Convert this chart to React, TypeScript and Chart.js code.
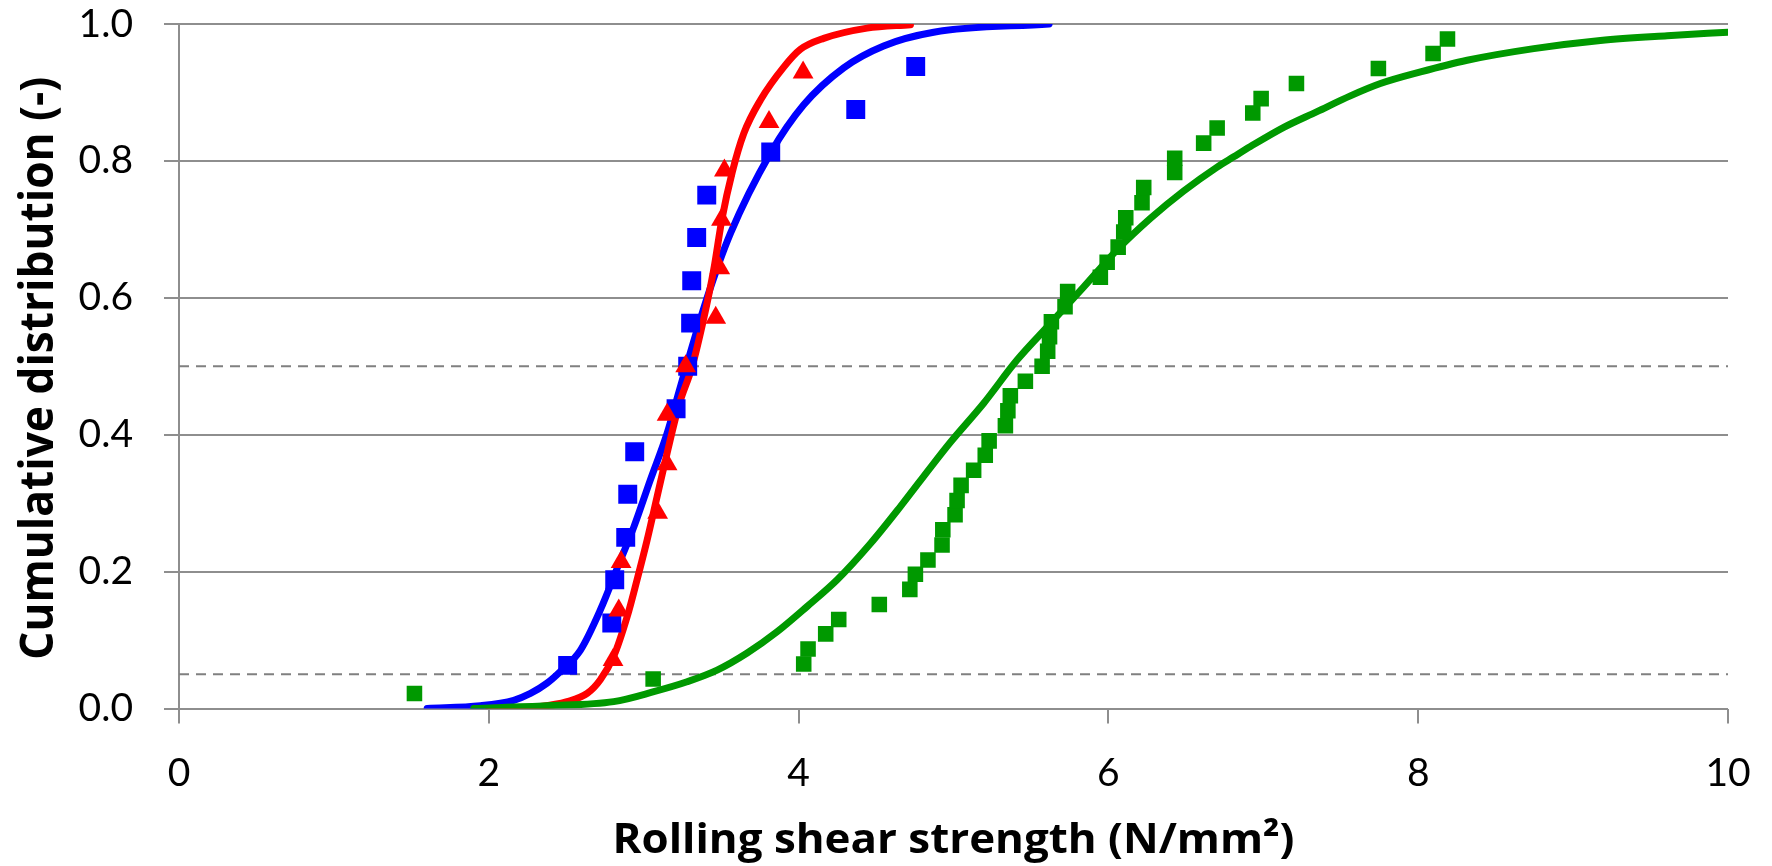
import React, { useEffect, useRef } from "react";
import { Chart, registerables } from "chart.js";

Chart.register(...registerables);

// Test data (markers)
const blueX = [2.509, 2.794, 2.813, 2.884, 2.897, 2.942, 3.209, 3.284, 3.303, 3.31, 3.342, 3.407, 3.82, 4.369, 4.756];
const blueY = [0.063, 0.125, 0.188, 0.25, 0.313, 0.375, 0.438, 0.5, 0.563, 0.625, 0.688, 0.75, 0.813, 0.875, 0.938];

const redX = [2.802, 2.839, 2.854, 3.09, 3.151, 3.151, 3.271, 3.465, 3.491, 3.502, 3.521, 3.809, 4.029];
const redY = [0.071, 0.143, 0.214, 0.286, 0.357, 0.429, 0.5, 0.571, 0.643, 0.714, 0.786, 0.857, 0.929];

const greenX = [
  1.52, 3.061, 4.033, 4.061, 4.175, 4.259, 4.521, 4.718, 4.754, 4.835,
  4.926, 4.931, 5.01, 5.023, 5.049, 5.13, 5.205, 5.23, 5.335, 5.351,
  5.367, 5.464, 5.572, 5.608, 5.62, 5.632, 5.72, 5.737, 5.948, 5.992,
  6.063, 6.099, 6.112, 6.217, 6.228, 6.428, 6.428, 6.615, 6.702, 6.932,
  6.986, 7.214, 7.743, 8.096, 8.189,
];
const greenY = [
  0.022, 0.043, 0.065, 0.087, 0.109, 0.13, 0.152, 0.174, 0.196, 0.217,
  0.239, 0.261, 0.283, 0.304, 0.326, 0.348, 0.37, 0.391, 0.413, 0.435,
  0.457, 0.478, 0.5, 0.522, 0.543, 0.565, 0.587, 0.609, 0.63, 0.652,
  0.674, 0.696, 0.717, 0.739, 0.761, 0.783, 0.804, 0.826, 0.848, 0.87,
  0.891, 0.913, 0.935, 0.957, 0.978,
];

// Fitted curves
const blueFitX = [1.602, 1.946, 2.161, 2.269, 2.376, 2.462, 2.591, 2.72, 2.85, 2.936, 3.043, 3.151, 3.237, 3.405, 3.56, 3.82, 4.033, 4.291, 4.549, 4.872, 5.617];
const blueFitY = [0.0, 0.004, 0.012, 0.022, 0.037, 0.054, 0.085, 0.144, 0.217, 0.265, 0.334, 0.402, 0.47, 0.597, 0.694, 0.812, 0.882, 0.936, 0.968, 0.988, 1.0];

const redFitX = [2.0, 2.333, 2.505, 2.635, 2.72, 2.806, 2.893, 2.957, 3.022, 3.086, 3.151, 3.23, 3.312, 3.388, 3.452, 3.506, 3.571, 3.646, 3.754, 3.904, 4.012, 4.162, 4.442, 4.722];
const redFitY = [0.0, 0.003, 0.01, 0.022, 0.042, 0.076, 0.134, 0.188, 0.246, 0.309, 0.373, 0.445, 0.499, 0.57, 0.641, 0.716, 0.783, 0.84, 0.889, 0.937, 0.963, 0.979, 0.994, 0.999];

const greenFitX = [1.903, 2.376, 2.806, 3.065, 3.28, 3.474, 3.668, 3.861, 4.055, 4.249, 4.464, 4.657, 4.851, 4.98, 5.195, 5.41, 5.626, 5.841, 6.056, 6.271, 6.486, 6.702, 6.809, 6.917, 7.132, 7.347, 7.562, 7.756, 8.015, 8.316, 8.746, 9.176, 9.607, 10.0];
const greenFitY = [0.0, 0.004, 0.01, 0.0245, 0.039, 0.056, 0.081, 0.112, 0.149, 0.188, 0.241, 0.295, 0.352, 0.389, 0.446, 0.509, 0.5625, 0.616, 0.67, 0.716, 0.756, 0.791, 0.806, 0.821, 0.849, 0.872, 0.895, 0.913, 0.93, 0.947, 0.964, 0.976, 0.983, 0.988];

// Reference levels (dashed)
const refLevels = [0.05, 0.5];
const xRange = [0, 10];

const yTicks = [0, 0.2, 0.4, 0.6, 0.8, 1.0];

const X_TITLE = "Rolling shear strength (N/mm²)";
const Y_TITLE = "Cumulative distribution (-)";

const BLUE = "#0000ff";
const RED = "#ff0000";
const GREEN = "#009900";
const GRID = "#8e8e8e";

const pts = (xs: number[], ys: number[]) => xs.map((x, i) => ({ x, y: ys[i] }));

// Axis titles drawn as (horizontally fitted) canvas text
const axisTitles = {
  id: "axisTitles",
  afterDraw(chart: any) {
    const { ctx, chartArea } = chart;
    ctx.save();
    ctx.fillStyle = "#000";
    ctx.textAlign = "center";
    ctx.textBaseline = "alphabetic";

    // x title
    ctx.font = 'bold 42px "Open Sans"';
    const wx = ctx.measureText(X_TITLE).width;
    ctx.save();
    ctx.translate((chartArea.left + chartArea.right) / 2, 853);
    ctx.scale(682 / wx, 1);
    ctx.fillText(X_TITLE, 0, 0);
    ctx.restore();

    // y title
    ctx.font = 'bold 46px "Open Sans"';
    const wy = ctx.measureText(Y_TITLE).width;
    ctx.save();
    ctx.translate(52.5, (chartArea.top + chartArea.bottom) / 2 + 2);
    ctx.rotate(-Math.PI / 2);
    ctx.scale(583 / wy, 1);
    ctx.fillText(Y_TITLE, 0, 0);
    ctx.restore();

    ctx.restore();
  },
};

export default function App() {
  const ref = useRef<HTMLCanvasElement>(null);

  useEffect(() => {
    const canvas = ref.current;
    if (!canvas) return;

    const tickFont = { family: "Lato", size: 39, lineHeight: 1 };

    const fitLine = (label: string, xs: number[], ys: number[], color: string, order: number) => ({
      label,
      data: pts(xs, ys),
      showLine: true,
      borderColor: color,
      borderWidth: 7,
      pointRadius: 0,
      cubicInterpolationMode: "monotone",
      borderCapStyle: "round",
      borderJoinStyle: "round",
      order,
    });

    const chart = new Chart(canvas, {
      type: "scatter",
      plugins: [axisTitles],
      data: {
        datasets: [
          {
            label: "red data",
            data: pts(redX, redY),
            pointStyle: "triangle",
            pointRadius: 12,
            backgroundColor: RED,
            borderColor: RED,
            borderWidth: 0,
            showLine: false,
            order: 1,
          },
          {
            label: "blue data",
            data: pts(blueX, blueY),
            pointStyle: "rect",
            pointRadius: 13.4,
            backgroundColor: BLUE,
            borderColor: BLUE,
            borderWidth: 0,
            showLine: false,
            order: 2,
          },
          {
            label: "green data",
            data: pts(greenX, greenY),
            pointStyle: "rect",
            pointRadius: 11,
            backgroundColor: GREEN,
            borderColor: GREEN,
            borderWidth: 0,
            showLine: false,
            order: 3,
          },
          fitLine("green fit", greenFitX, greenFitY, GREEN, 4),
          fitLine("red fit", redFitX, redFitY, RED, 5),
          fitLine("blue fit", blueFitX, blueFitY, BLUE, 6),
          ...refLevels.map((lv, i) => ({
            label: "ref " + lv,
            data: pts(xRange, [lv, lv]),
            showLine: true,
            borderColor: "#808080",
            borderWidth: 2,
            borderDash: [10, 7],
            pointRadius: 0,
            order: 7 + i,
          })),
        ],
      },
      options: {
        responsive: false,
        devicePixelRatio: 1,
        animation: false,
        layout: { padding: { top: 24, right: 44, left: 0, bottom: 0 } },
        plugins: {
          legend: { display: false },
          tooltip: { enabled: false },
        },
        scales: {
          x: {
            type: "linear",
            min: 0,
            max: 10,
            ticks: { stepSize: 2, font: tickFont, color: "#000", padding: 30 },
            grid: { drawOnChartArea: false, drawTicks: true, tickLength: 15, color: GRID, lineWidth: 2 },
            border: { display: false },
            title: { display: false },
            afterFit: (s: any) => {
              s.height = 157.5;
              s.paddingLeft = 0;
              s.paddingRight = 0;
            },
          },
          y: {
            type: "linear",
            min: 0,
            max: 1,
            afterBuildTicks: (s: any) => {
              s.ticks = yTicks.map((v) => ({ value: v }));
            },
            ticks: {
              font: tickFont,
              color: "#000",
              padding: 31,
              callback: (v: any) => Number(v).toFixed(1),
            },
            grid: { color: GRID, lineWidth: 2, tickLength: 15 },
            border: { display: true, color: GRID, width: 2 },
            title: { display: false },
            afterFit: (s: any) => {
              s.width = 179;
              s.paddingTop = 0;
              s.paddingBottom = 0;
            },
          },
        },
      },
    } as any);

    return () => chart.destroy();
  }, []);

  return (
    <div style={{ position: "absolute", left: 0, top: 0, width: 1772, height: 866, background: "#fff" }}>
      <canvas ref={ref} width={1772} height={866} style={{ display: "block" }} />
    </div>
  );
}
